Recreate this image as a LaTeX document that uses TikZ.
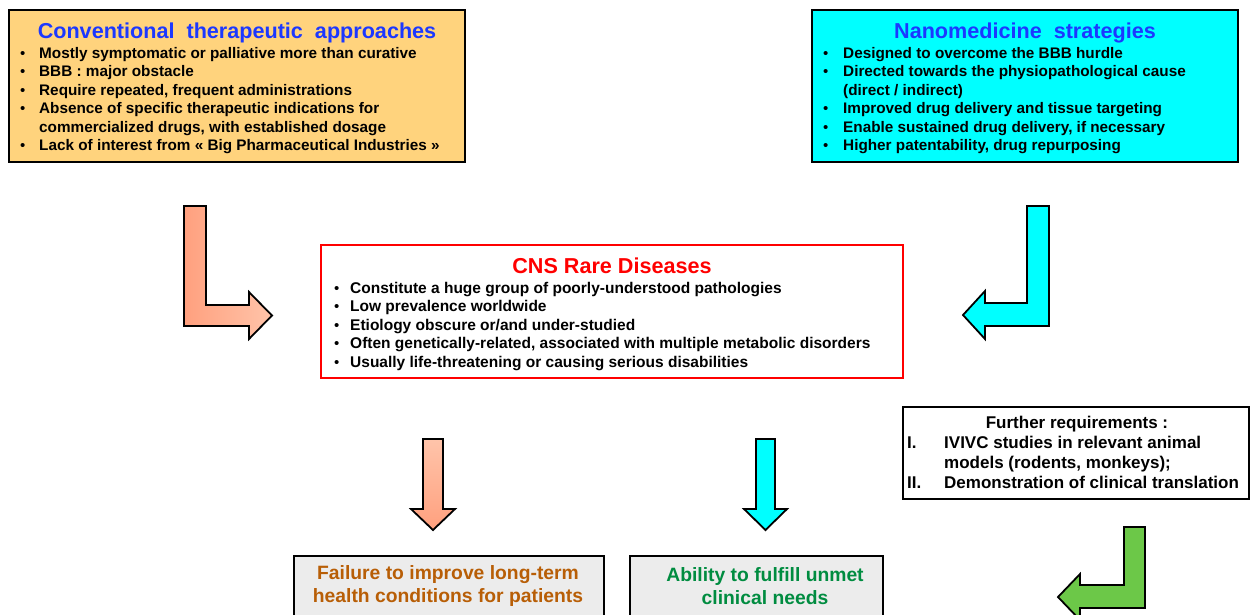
\documentclass[tikz,border=0pt]{standalone}
\usepackage{fontspec,array}
\setmainfont{Liberation Sans}
\definecolor{convfill}{RGB}{255,211,125}
\definecolor{nanofill}{RGB}{0,255,255}
\definecolor{headblue}{RGB}{28,56,255}
\definecolor{salmondark}{RGB}{255,160,126}
\definecolor{salmonlight}{RGB}{255,196,170}
\definecolor{failbrown}{RGB}{184,94,6}
\definecolor{abilitygreen}{RGB}{0,140,64}
\definecolor{outfill}{RGB}{236,236,236}
\definecolor{arrowgreen}{RGB}{108,200,72}
\newcommand{\bul}{{\mdseries\fontsize{15}{15}\selectfont\textbullet}}
\begin{document}
\begin{tikzpicture}[x=1pt,y=-1pt,
    box/.style={draw,line width=2pt,inner sep=0pt},
    heading/.style={inner sep=0pt,anchor=base,font=\fontsize{21.6}{26}\selectfont\bfseries},
    itemlist/.style={inner sep=0pt,anchor=base west,font=\fontsize{15.3}{18.5}\selectfont\bfseries},
    outtext/.style={inner sep=0pt,align=center,font=\fontsize{19.3}{23}\selectfont\bfseries},
    blockarrow/.style={draw,line width=1.8pt,line join=miter}]
\useasboundingbox (0,0) rectangle (1250,614);

\node[box,fill=convfill,minimum width=456pt,minimum height=152pt] (conv) at (237,86) {};
\node[heading,text=headblue] (convtitle) at (237,38) {Conventional\ \ therapeutic\ \ approaches};
\node[itemlist] (convlist) at (20,58) {\begin{tabular}[t]{@{}p{19pt}@{}l@{}}
\bul & Mostly symptomatic or palliative more than curative\\
\bul & BBB : major obstacle\\
\bul & Require repeated, frequent administrations\\
\bul & Absence of specific therapeutic indications for\\
 & commercialized drugs, with established dosage\\
\bul & Lack of interest from « Big Pharmaceutical Industries »
\end{tabular}};

\node[box,fill=nanofill,minimum width=426pt,minimum height=152pt] (nano) at (1025,86) {};
\node[heading,text=headblue] (nanotitle) at (1025,38) {Nanomedicine\ \ strategies};
\node[itemlist] (nanolist) at (823,58) {\begin{tabular}[t]{@{}p{20pt}@{}l@{}}
\bul & Designed to overcome the BBB hurdle\\
\bul & Directed towards the physiopathological cause\\
 & (direct / indirect)\\
\bul & Improved drug delivery and tissue targeting\\
\bul & Enable sustained drug delivery, if necessary\\
\bul & Higher patentability, drug repurposing
\end{tabular}};

\node[box,draw=red,fill=white,minimum width=582pt,minimum height=133pt] (cns) at (612,311.5) {};
\node[heading,text=red] (cnstitle) at (612,273) {CNS Rare Diseases};
\node[itemlist,font=\fontsize{15.5}{18.5}\selectfont\bfseries] (cnslist) at (334,293) {\begin{tabular}[t]{@{}p{16pt}@{}l@{}}
\bul & Constitute a huge group of poorly-understood pathologies\\
\bul & Low prevalence worldwide\\
\bul & Etiology obscure or/and under-studied\\
\bul & Often genetically-related, associated with multiple metabolic disorders\\
\bul & Usually life-threatening or causing serious disabilities
\end{tabular}};

\node[box,fill=white,minimum width=346pt,minimum height=92pt] (further) at (1076,453) {};
\node[itemlist,anchor=base,font=\fontsize{17}{20}\selectfont\bfseries] (furthertitle) at (1077,428) {Further requirements :};
\node[itemlist,font=\fontsize{17}{20}\selectfont\bfseries] (furtherlist) at (907,448) {\begin{tabular}[t]{@{}p{37pt}@{}l@{}}
I. & IVIVC studies in relevant animal\\
 & models (rodents, monkeys);\\
II. & Demonstration of clinical translation
\end{tabular}};

\node[box,fill=outfill,minimum width=310pt,minimum height=70pt] (failbox) at (448.5,591) {};
\node[outtext,text=failbrown] (failtext) at (448,586) {Failure to improve long-term\\health conditions for patients};
\node[box,fill=outfill,minimum width=253pt,minimum height=70pt] (abilitybox) at (756.5,591) {};
\node[outtext,text=abilitygreen] (abilitytext) at (765,586) {Ability to fulfill unmet\\clinical needs};

\draw[blockarrow,left color=salmondark,right color=salmonlight] (184,206) -- (206,206) -- (206,305) -- (249,305) -- (249,292) -- (272,315.5) -- (249,339) -- (249,326) -- (184,326) -- cycle;
\draw[blockarrow,fill=nanofill] (1049,206) -- (1027,206) -- (1027,303) -- (985,303) -- (985,291) -- (963,315) -- (985,339) -- (985,326) -- (1049,326) -- cycle;
\draw[blockarrow,top color=salmonlight,bottom color=salmondark] (423,439) -- (443,439) -- (443,509) -- (455,509) -- (433,530) -- (411,509) -- (423,509) -- cycle;
\draw[blockarrow,fill=nanofill] (756,439) -- (775,439) -- (775,509) -- (787,509) -- (765.5,530) -- (744,509) -- (756,509) -- cycle;
\draw[blockarrow,fill=arrowgreen] (1145,527) -- (1124,527) -- (1124,585) -- (1080,585) -- (1080,574) -- (1058,597) -- (1080,620) -- (1080,608) -- (1145,608) -- cycle;
\end{tikzpicture}
\end{document}
